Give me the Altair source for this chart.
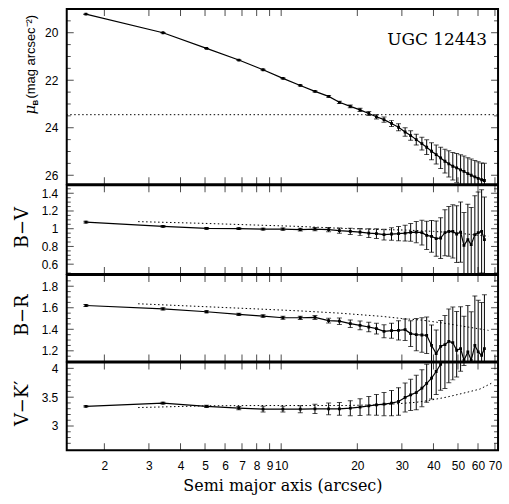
import altair as alt
import pandas as pd

# ---------------- data ----------------
radius = [1.69, 3.41, 5.07, 6.80, 8.48, 10.16, 11.90, 13.60, 15.40, 16.99,
          18.76, 20.5, 22.2, 23.8, 25.5, 27.3, 29.1, 30.9, 32.5, 34.2,
          36.0, 37.6, 39.3, 41.0, 42.7, 44.4, 46.0, 47.7, 49.4, 51.2,
          52.8, 54.7, 56.4, 58.3, 60.1, 62.0, 63.6]

mu_b = [19.22, 20.00, 20.66, 21.15, 21.56, 21.92, 22.22, 22.47, 22.68, 22.93,
        23.10, 23.25, 23.40, 23.54, 23.66, 23.82, 23.98, 24.18, 24.33, 24.50,
        24.67, 24.82, 24.99, 25.13, 25.27, 25.41, 25.52, 25.62, 25.69, 25.77,
        25.84, 25.93, 26.00, 26.07, 26.13, 26.19, 26.22]
mu_err = [0.01, 0.01, 0.01, 0.01, 0.02, 0.02, 0.02, 0.03, 0.04, 0.05,
          0.06, 0.07, 0.08, 0.09, 0.11, 0.13, 0.15, 0.18, 0.20, 0.23,
          0.27, 0.31, 0.36, 0.40, 0.45, 0.50, 0.55, 0.58, 0.61, 0.63,
          0.65, 0.67, 0.68, 0.69, 0.70, 0.71, 0.72]

b_v = [1.074, 1.026, 1.003, 1.000, 0.996, 0.996, 0.990, 0.996, 0.990, 0.978,
       0.970, 0.962, 0.950, 0.944, 0.933, 0.940, 0.944, 0.950, 0.959, 0.962,
       0.955, 0.925, 0.914, 0.888, 0.895, 0.955, 0.970, 0.970, 0.940, 0.962,
       0.813, 0.877, 0.820, 0.933, 0.955, 0.970, 0.877]
b_v_err = [0.01, 0.01, 0.01, 0.01, 0.01, 0.012, 0.015, 0.018, 0.025, 0.03,
           0.035, 0.04, 0.05, 0.055, 0.06, 0.07, 0.08, 0.09, 0.10, 0.12,
           0.14, 0.16, 0.18, 0.20, 0.23, 0.26, 0.28, 0.30, 0.32, 0.34,
           0.37, 0.40, 0.42, 0.44, 0.46, 0.47, 0.48]

b_r = [1.621, 1.590, 1.563, 1.538, 1.523, 1.507, 1.507, 1.510, 1.480, 1.475,
       1.452, 1.436, 1.421, 1.406, 1.381, 1.387, 1.390, 1.396, 1.360, 1.350,
       1.347, 1.344, 1.250, 1.174, 1.242, 1.257, 1.288, 1.276, 1.205, 1.220,
       1.112, 1.190, 1.112, 1.250, 1.190, 1.158, 1.220]
b_r_err = [0.01, 0.01, 0.01, 0.01, 0.012, 0.013, 0.015, 0.018, 0.022, 0.03,
           0.035, 0.04, 0.045, 0.05, 0.06, 0.07, 0.09, 0.10, 0.12, 0.15,
           0.16, 0.17, 0.19, 0.22, 0.24, 0.27, 0.30, 0.33, 0.36, 0.39,
           0.41, 0.43, 0.45, 0.46, 0.48, 0.49, 0.50]

v_k = [3.340, 3.396, 3.340, 3.310, 3.292, 3.292, 3.292, 3.297, 3.297, 3.297,
       3.310, 3.327, 3.350, 3.367, 3.380, 3.396, 3.425, 3.495, 3.540, 3.580,
       3.656, 3.740, 3.830, 3.945, 4.070, 4.20, 4.30, 4.35, 4.45, 4.50,
       4.55, 4.70, 4.80, 4.75, 4.90, 5.00, 4.90]
v_k_err = [0.01, 0.015, 0.02, 0.03, 0.05, 0.05, 0.06, 0.08, 0.10, 0.11,
           0.13, 0.145, 0.16, 0.18, 0.20, 0.22, 0.24, 0.25, 0.27, 0.30,
           0.32, 0.33, 0.36, 0.40, 0.45, 0.55, 0.55, 0.55, 0.60, 0.55,
           0.50, 0.50, 0.50, 0.50, 0.50, 0.50, 0.50]

# dotted reference / model curves
mu_limit = [23.45]
bv_model_r = [2.72, 5, 8.2, 12, 17, 25, 31, 40, 50, 66]
bv_model = [1.08, 1.06, 1.04, 1.025, 1.005, 0.99, 0.985, 0.97, 0.95, 0.915]
br_model_r = [2.72, 5, 8.2, 12, 17, 25, 30, 36, 46, 55, 66]
br_model = [1.637, 1.61, 1.588, 1.57, 1.55, 1.52, 1.50, 1.485, 1.45, 1.42, 1.39]
vk_model_r = [2.72, 5, 8, 18, 25, 29.6, 34, 38, 45, 52.6, 61, 67.7]
vk_model = [3.32, 3.35, 3.355, 3.355, 3.37, 3.39, 3.41, 3.44, 3.50, 3.57, 3.64, 3.74]

# axis ticks
x_ticks = [2, 3, 4, 5, 6, 7, 8, 9, 10, 20, 30, 40, 50, 60, 70]
mu_major = [20, 22, 24, 26]
mu_minor = [19.5, 20.5, 21, 21.5, 22.5, 23, 23.5, 24.5, 25, 25.5]
bv_major = [0.6, 0.8, 1.0, 1.2, 1.4]
bv_minor = [0.5, 0.65, 0.7, 0.75, 0.85, 0.9, 0.95, 1.05, 1.1, 1.15, 1.25, 1.3, 1.35, 1.45]
br_major = [1.2, 1.4, 1.6, 1.8]
br_minor = [1.15, 1.25, 1.3, 1.35, 1.45, 1.5, 1.55, 1.65, 1.7, 1.75, 1.85]
vk_major = [3.0, 3.5, 4.0]
vk_minor = [2.7, 2.8, 2.9, 3.1, 3.2, 3.3, 3.4, 3.6, 3.7, 3.8, 3.9]

W = 433
PAD_L, PAD_T, PAD_R, PAD_B = 66, 7, 10, 57
LABEL_FONT = "Liberation Sans"
SERIF = "DejaVu Serif"
x_scale = alt.Scale(type="log", domain=[1.42, 72], nice=False)


def frame_guard(ypos):
    # invisible horizontal rule that fixes the chart's outer bounds
    return alt.Chart(pd.DataFrame({"a": [0]})).mark_rule(
        color="white", strokeWidth=0.5, opacity=0
    ).encode(x=alt.value(-PAD_L), x2=alt.value(W + PAD_R), y=alt.value(ypos))


def panel(vals, errs, domain, reverse, height, major, minor, model=None,
          hline=None, bottom=False, extra=None):
    df = pd.DataFrame({
        "r": radius, "v": vals,
        "lo": [v - e for v, e in zip(vals, errs)],
        "hi": [v + e for v, e in zip(vals, errs)],
    })
    ysc = alt.Scale(domain=domain, reverse=reverse, zero=False, nice=False)
    yaxis = alt.Axis(values=major, format="~g", ticks=False, domain=False,
                     grid=False, labelPadding=9, labelFont=LABEL_FONT,
                     labelFontSize=12, labelColor="black", title=None,
                     labelOverlap=False)
    if bottom:
        xaxis = alt.Axis(values=x_ticks, format="~g", ticks=False, domain=False,
                         grid=False, labelPadding=10, labelFont=LABEL_FONT,
                         labelFontSize=12, labelColor="black",
                         labelOverlap=False, labelFlush=False,
                         title="Semi major axis (arcsec)", titleFont=SERIF,
                         titleFontSize=16, titleFontWeight="normal",
                         titleColor="black", titlePadding=6)
    else:
        xaxis = None
    X = lambda f: alt.X(f, scale=x_scale, axis=xaxis)
    Y = lambda f: alt.Y(f, scale=ysc, axis=yaxis)

    base = alt.Chart(df)
    layers = []
    if model is not None:
        mdf = pd.DataFrame({"r": model[0], "v": model[1]})
        layers.append(alt.Chart(mdf).mark_line(
            color="black", strokeWidth=1, strokeDash=[1.5, 2.5], clip=True
        ).encode(x=X("r:Q"), y=Y("v:Q")))
    if hline is not None:
        hdf = pd.DataFrame({"v": hline})
        layers.append(alt.Chart(hdf).mark_rule(
            color="black", strokeWidth=1, strokeDash=[1.5, 2.5]
        ).encode(y=Y("v:Q")))
    layers += [
        base.mark_rule(color="black", strokeWidth=1, clip=True).encode(
            x=X("r:Q"), y=Y("lo:Q"), y2="hi:Q"),
        base.mark_tick(orient="horizontal", size=5, thickness=1, color="black",
                       clip=True).encode(x=X("r:Q"), y=Y("lo:Q")),
        base.mark_tick(orient="horizontal", size=5, thickness=1, color="black",
                       clip=True).encode(x=X("r:Q"), y=Y("hi:Q")),
        base.mark_line(color="black", strokeWidth=1.2, clip=True).encode(
            x=X("r:Q"), y=Y("v:Q")),
        base.mark_square(color="black", size=8, opacity=1, clip=True).encode(
            x=X("r:Q"), y=Y("v:Q")),
    ]
    # inside ticks (left/right for y, top/bottom for x)
    mj = alt.Chart(pd.DataFrame({"t": major}))
    mn = alt.Chart(pd.DataFrame({"t": minor}))
    for xpos, sz, src in [(3.5, 7, mj), (2, 4, mn), (W - 3.5, 7, mj), (W - 2, 4, mn)]:
        layers.append(src.mark_tick(orient="horizontal", size=sz, thickness=1,
                                    color="black").encode(
            y=Y("t:Q"), x=alt.value(xpos)))
    xt = alt.Chart(pd.DataFrame({"t": x_ticks}))
    for ypos in [3.5, height - 3.5]:
        layers.append(xt.mark_tick(orient="vertical", size=7, thickness=1,
                                   color="black").encode(
            x=X("t:Q"), y=alt.value(ypos)))
    if extra:
        layers += extra
    return alt.layer(*layers).properties(width=W, height=height)


def ylabel(text, height, x=-39, size=18, dy=0):
    return alt.Chart(pd.DataFrame({"t": [text]})).mark_text(
        angle=270, font=SERIF, fontSize=size, color="black",
        baseline="alphabetic", align="center"
    ).encode(text="t:N", x=alt.value(x), y=alt.value(height / 2 + dy))


H1, H2, H3, H4 = 176, 89, 87, 88

mu_title = [
    alt.Chart(pd.DataFrame({"t": ["μ"]})).mark_text(
        angle=270, font=SERIF, fontSize=15, fontStyle="italic", color="black",
        baseline="alphabetic", align="left"
    ).encode(text="t:N", x=alt.value(-32), y=alt.value(106)),
    alt.Chart(pd.DataFrame({"t": ["B"]})).mark_text(
        angle=270, font=LABEL_FONT, fontSize=8, fontWeight="bold", color="black",
        baseline="alphabetic", align="left"
    ).encode(text="t:N", x=alt.value(-29), y=alt.value(97)),
    alt.Chart(pd.DataFrame({"t": ["(mag arcsec⁻²)"]})).mark_text(
        angle=270, font=LABEL_FONT, fontSize=13, color="black",
        baseline="alphabetic", align="left"
    ).encode(text="t:N", x=alt.value(-32), y=alt.value(90)),
    alt.Chart(pd.DataFrame({"t": ["UGC 12443"]})).mark_text(
        font=SERIF, fontSize=17, color="black", baseline="alphabetic",
        align="right"
    ).encode(text="t:N", x=alt.value(W - 11), y=alt.value(36)),
    frame_guard(-PAD_T),
]

p1 = panel(mu_b, mu_err, [19.0, 26.38], True, H1, mu_major, mu_minor,
           hline=mu_limit, extra=mu_title)
p2 = panel(b_v, b_v_err, [0.49, 1.49], False, H2, bv_major, bv_minor,
           model=(bv_model_r, bv_model), extra=[ylabel("B−V", H2, dy=-2)])
p3 = panel(b_r, b_r_err, [1.10, 1.905], False, H3, br_major, br_minor,
           model=(br_model_r, br_model), extra=[ylabel("B−R", H3, dy=-3)])
p4 = panel(v_k, v_k_err, [2.58, 4.10], False, H4, vk_major, vk_minor,
           model=(vk_model_r, vk_model), bottom=True,
           extra=[ylabel("V−K′", H4, dy=-3), frame_guard(H4 + PAD_B)])

chart = alt.vconcat(p1, p2, p3, p4, spacing=-3).properties(
    padding=0,
    background="white",
).configure_view(stroke="black", strokeWidth=2)

chart.save("out.html", embed_options={"renderer": "svg", "actions": False})
